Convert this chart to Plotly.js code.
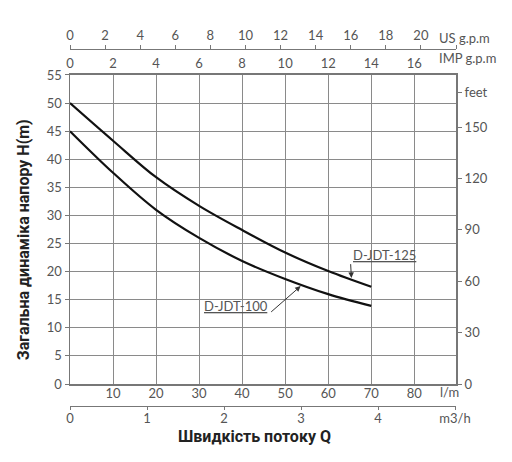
<!DOCTYPE html>
<html>
<head>
<meta charset="utf-8">
<script src="https://cdn.plot.ly/plotly-3.0.1.min.js"></script>
<style>
  body { margin: 0; background: #fff; }
  #chart { width: 512px; height: 462px; }
</style>
</head>
<body>
<div id="chart"></div>
<script>
// pump curves
var flowLpm = [0, 10, 20, 30, 40, 50, 60, 70]
var headJdt125 = [50, 43.3, 36.8, 31.7, 27.4, 23.4, 20.1, 17.3]
var headJdt100 = [45, 37.6, 31.0, 26.0, 21.9, 18.7, 16.0, 13.9]

var lpmTicks = [10, 20, 30, 40, 50, 60, 70, 80]
var impTicks = [0, 2, 4, 6, 8, 10, 12, 14, 16]
var usTicks = [0, 2, 4, 6, 8, 10, 12, 14, 16, 18, 20]
var m3hTicks = [0, 1, 2, 3, 4]
var headTicks = [0, 5, 10, 15, 20, 25, 30, 35, 40, 45, 50, 55]
var feetTicks = [0, 30, 60, 90, 120, 150]

var gridCol = "#8a8a8a"
var textCol = "#555"
var tickFont = { family: "Lato, Open Sans, sans-serif", size: 13, color: textCol }

function headAt(xs, ys, q) {
    for (var i = 1; i < xs.length; i++) {
        if (q <= xs[i]) {
            var t = (q - xs[i - 1]) / (xs[i] - xs[i - 1])
            return ys[i - 1] + t * (ys[i] - ys[i - 1])
        }
    }
    return ys[ys.length - 1]
}

var curve = function (y) {
    return {
        type: "scatter",
        mode: "lines",
        x: flowLpm,
        y: y,
        xaxis: "x",
        yaxis: "y",
        line: { color: "#111", width: 2.2, shape: "spline", smoothing: 1 },
        hoverinfo: "skip",
        showlegend: false,
    }
}

// empty traces so the extra unit axes get drawn
var axisHolder = function (xa, ya) {
    return { type: "scatter", mode: "lines", x: [], y: [], xaxis: xa, yaxis: ya, showlegend: false, hoverinfo: "skip" }
}

var lpmMax = 89.7
var headMax = 55

Plotly.newPlot(
    document.getElementById("chart"),
    [
        curve(headJdt125), curve(headJdt100),
        axisHolder("x2", "y"), axisHolder("x3", "y"), axisHolder("x4", "y"), axisHolder("x", "y2"),
    ],
    {
        width: 512,
        height: 462,
        margin: { l: 70, r: 56, t: 0, b: 0 },
        paper_bgcolor: "#fff",
        plot_bgcolor: "#fff",
        showlegend: false,
        xaxis: {
            range: [0, lpmMax],
            tickvals: lpmTicks,
            ticks: "",
            ticklabelstandoff: -3,
            showgrid: true,
            gridcolor: gridCol,
            gridwidth: 1,
            zeroline: false,
            showline: true,
            linecolor: "#777",
            linewidth: 1.5,
            mirror: true,
            tickfont: tickFont,
            fixedrange: true,
        },
        yaxis: {
            domain: [0.1688, 0.8377],
            range: [0, headMax],
            tickvals: headTicks,
            ticks: "outside",
            ticklen: 4,
            tickcolor: "#777",
            showgrid: true,
            gridcolor: gridCol,
            gridwidth: 1,
            zeroline: false,
            showline: true,
            linecolor: "#777",
            linewidth: 1.5,
            mirror: true,
            tickfont: tickFont,
            fixedrange: true,
        },
        xaxis3: {
            overlaying: "x",
            anchor: "y",
            side: "top",
            range: [0, lpmMax / 5],
            tickvals: impTicks,
            ticks: "",
            ticklabelstandoff: 3,
            showgrid: false,
            zeroline: false,
            showline: false,
            tickfont: tickFont,
            fixedrange: true,
        },
        xaxis2: {
            overlaying: "x",
            anchor: "free",
            position: 0.8933,
            side: "top",
            range: [0, 22],
            tickvals: usTicks.concat([22]),
            ticktext: usTicks.map(String).concat([""]),
            ticks: "outside",
            ticklen: 4,
            tickcolor: "#777",
            showgrid: false,
            zeroline: false,
            showline: true,
            linecolor: "#777",
            linewidth: 1.2,
            tickfont: tickFont,
            fixedrange: true,
        },
        xaxis4: {
            overlaying: "x",
            anchor: "free",
            position: 0.1212,
            side: "bottom",
            range: [0, 5.013],
            tickvals: m3hTicks.concat([5]),
            ticktext: m3hTicks.map(String).concat(["m3/h"]),
            ticks: "outside",
            ticklen: 3,
            ticklabelstandoff: -3,
            tickcolor: "#777",
            showgrid: false,
            zeroline: false,
            showline: true,
            linecolor: "#777",
            linewidth: 1.2,
            tickfont: tickFont,
            fixedrange: true,
        },
        yaxis2: {
            overlaying: "y",
            anchor: "x",
            side: "right",
            range: [0, headMax * 3.2808],
            tickvals: feetTicks.concat([170]),
            ticktext: feetTicks.map(String).concat(["feet"]),
            ticks: "outside",
            ticklen: 5,
            tickcolor: "#777",
            showgrid: false,
            zeroline: false,
            showline: false,
            tickfont: tickFont,
            fixedrange: true,
        },
        annotations: [{
            text: "Загальна динаміка напору H(m)",
            font: { family: "Roboto, sans-serif", size: 16, color: "#222", weight: 700 },
            textangle: -90,
            showarrow: false,
            xref: "paper", yref: "paper",
            x: -0.122, y: 0.482,
            xanchor: "center", yanchor: "middle",
        }, {
            text: "Швидкість потоку Q",
            font: { family: "Roboto, sans-serif", size: 16, color: "#222", weight: 700 },
            showarrow: false,
            xref: "paper", yref: "paper",
            x: 0.478, y: 0.056,
            xanchor: "center", yanchor: "middle",
        }, {
            text: "US g.p.m",
            font: tickFont,
            showarrow: false,
            xref: "paper", yref: "paper",
            x: 0.951, y: 0.918,
            xanchor: "left", yanchor: "middle",
        }, {
            text: "IMP g.p.m",
            font: tickFont,
            showarrow: false,
            xref: "paper", yref: "paper",
            x: 0.951, y: 0.874,
            xanchor: "left", yanchor: "middle",
        }, {
            text: "l/m",
            font: tickFont,
            showarrow: false,
            xref: "paper", yref: "paper",
            x: 0.982, y: 0.152,
            xanchor: "center", yanchor: "middle",
        }, {
            text: "<u>D-JDT-125</u>",
            font: tickFont,
            showarrow: false,
            xref: "x", yref: "y",
            x: 65.2, y: 22.9,
            xanchor: "left", yanchor: "middle",
        }, {
            text: "",
            showarrow: true,
            arrowhead: 2,
            arrowsize: 1.1,
            arrowwidth: 1,
            arrowcolor: "#333",
            xref: "x", yref: "y",
            axref: "x", ayref: "y",
            x: 65.4, y: headAt(flowLpm, headJdt125, 65.4) + 0.3,
            ax: 65.2, ay: 21.6,
        }, {
            text: "<u>D-JDT-100</u>",
            font: tickFont,
            showarrow: false,
            xref: "x", yref: "y",
            x: 46.4, y: 13.8,
            xanchor: "right", yanchor: "middle",
        }, {
            text: "",
            showarrow: true,
            arrowhead: 2,
            arrowsize: 1.1,
            arrowwidth: 1,
            arrowcolor: "#333",
            xref: "x", yref: "y",
            axref: "x", ayref: "y",
            x: 53.6, y: headAt(flowLpm, headJdt100, 53.6) - 0.3,
            ax: 46.4, ay: 12.6,
        }],
    },
    { staticPlot: true }
)
</script>
</body>
</html>
